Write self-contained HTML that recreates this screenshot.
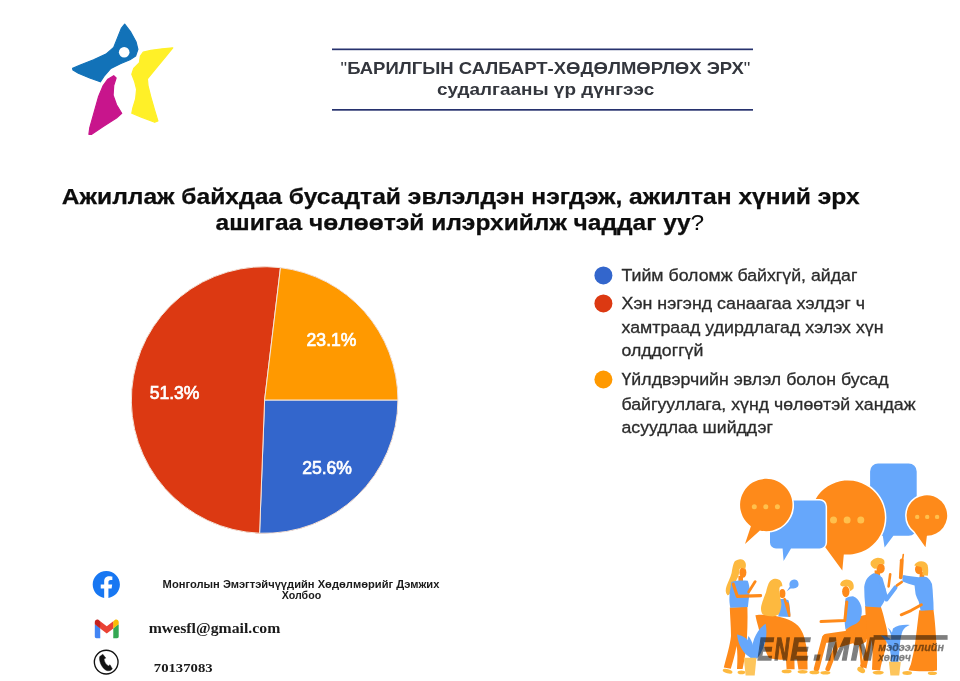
<!DOCTYPE html>
<html lang="mn">
<head>
<meta charset="utf-8">
<title>Барилгын салбарт - хөдөлмөрлөх эрх</title>
<style>
html,body{margin:0;padding:0;background:#fff;}
body{width:960px;height:681px;overflow:hidden;position:relative;font-family:"Liberation Sans",sans-serif;}
svg{position:absolute;left:0;top:0;display:block;}
.sans{font-family:"Liberation Sans","DejaVu Sans",sans-serif;}
.serif{font-family:"Liberation Serif","DejaVu Serif",serif;}
</style>
</head>
<body>
<svg width="960" height="681" viewBox="0 0 960 681">
<rect width="960" height="681" fill="#ffffff"/>

<!-- LOGO -->
<g id="logo" stroke-linejoin="round" stroke-width="1.2">
  <path fill="#1272b8" stroke="#1272b8" d="M124.7,24.2 L130.8,32.2 L136,41.7 L137.9,49.4 L135.6,56 L129.9,59.8 L120.3,63.7 L110.8,68.4 L104.1,76.1 L100.3,81.8 L89.8,78 L78.4,73.2 L73,70 L72.6,68.4 L80.3,65 L93.6,59.8 L106,54.1 L113.7,47.4 L117.5,37.9 L121.3,28.4 Z"/>
  <circle cx="124.2" cy="52.2" r="5.3" fill="#ffffff"/>
  <path fill="#c8158c" stroke="#c8158c" d="M113.7,75.7 L116.1,78 L113.7,85.6 L113.1,95.2 L116.5,104.7 L121.7,113.3 L116.5,118 L103.2,126.6 L91.7,134.3 L88.9,134.3 L89.8,127.6 L93.6,114.2 L98.4,97.1 L103.2,85.6 L107.9,79.2 Z"/>
  <path fill="#fff028" stroke="#fff028" d="M172.8,47.8 L166.1,56 L156.6,67.5 L147.4,78.9 L148,85.6 L150.9,97.1 L154.7,110.4 L157.9,120.9 L154.7,122.3 L141.3,117.1 L131.8,113.3 L132.7,108.5 L135.6,99 L136.6,89.4 L134.7,81.8 L131.8,74.2 L133.7,68.4 L139.4,62.7 L140.4,56 L143.2,52.2 L150.9,50.3 L162.3,48.8 Z"/>
</g>

<!-- HEADER -->
<g id="header">
  <rect x="332" y="48.5" width="421" height="1.7" fill="#27326e"/>
  <rect x="332" y="109" width="421" height="1.7" fill="#27326e"/>
  <text class="sans" x="340.6" y="74.3" font-size="17" font-weight="700" fill="#33363d" textLength="409.8" lengthAdjust="spacingAndGlyphs"><tspan font-weight="400">"</tspan>БАРИЛГЫН САЛБАРТ-ХӨДӨЛМӨРЛӨХ ЭРХ<tspan font-weight="400">"</tspan></text>
  <text class="sans" x="437" y="95" font-size="16.8" font-weight="700" fill="#33363d" textLength="217.2" lengthAdjust="spacingAndGlyphs">судалгааны үр дүнгээс</text>
</g>

<!-- TITLE -->
<g id="title" class="sans" font-size="22.6" font-weight="700" fill="#0d0d0d" stroke="#0d0d0d" stroke-width="0.25">
  <text x="61.8" y="203.9" textLength="797.9" lengthAdjust="spacingAndGlyphs">Ажиллаж байхдаа бусадтай эвлэлдэн нэгдэж, ажилтан хүний эрх</text>
  <text x="215.6" y="229.6" textLength="488.6" lengthAdjust="spacingAndGlyphs">ашигаа чөлөөтэй илэрхийлж чаддаг уу<tspan font-weight="400" stroke="none">?</tspan></text>
</g>

<!-- PIE -->
<g id="pie">
  <circle cx="264.6" cy="400" r="133.3" fill="#dc3912"/>
  <path fill="#3366cc" stroke="#f3e6dc" stroke-width="1" d="M264.6,400 L397.90,400.00 A133.3,133.3 0 0,1 259.58,533.21 Z"/>
  <path fill="#dc3912" stroke="#f3e6dc" stroke-width="1" d="M264.6,400 L259.58,533.21 A133.3,133.3 0 1,1 280.48,267.65 Z"/>
  <path fill="#ff9900" stroke="#f3e6dc" stroke-width="1" d="M264.6,400 L280.48,267.65 A133.3,133.3 0 0,1 397.90,400.00 Z"/>
  <g class="sans" font-size="17.5" font-weight="400" fill="#ffffff" stroke="#ffffff" stroke-width="0.7">
    <text x="306.6" y="345.7" textLength="49.8" lengthAdjust="spacingAndGlyphs">23.1%</text>
    <text x="149.7" y="398.6" textLength="49.8" lengthAdjust="spacingAndGlyphs">51.3%</text>
    <text x="302.2" y="473.7" textLength="49.8" lengthAdjust="spacingAndGlyphs">25.6%</text>
  </g>
</g>

<!-- LEGEND -->
<g id="legend">
  <circle cx="603.4" cy="275.4" r="9" fill="#3366cc"/>
  <circle cx="603.4" cy="303.4" r="9" fill="#dc3912"/>
  <circle cx="603.4" cy="379.5" r="9" fill="#ff9900"/>
  <g class="sans" font-size="17.4" fill="#2b2b2b" stroke="#2b2b2b" stroke-width="0.3" lengthAdjust="spacingAndGlyphs">
    <text x="621.5" y="280.8" textLength="235.9" lengthAdjust="spacingAndGlyphs">Тийм боломж байхгүй, айдаг</text>
    <text x="621.5" y="308.5" textLength="243.6" lengthAdjust="spacingAndGlyphs">Хэн нэгэнд санаагаа хэлдэг ч</text>
    <text x="621.5" y="333.2" textLength="262" lengthAdjust="spacingAndGlyphs">хамтраад удирдлагад хэлэх хүн</text>
    <text x="621.5" y="356.4" textLength="81.8" lengthAdjust="spacingAndGlyphs">олддоггүй</text>
    <text x="621.5" y="384.9" textLength="267" lengthAdjust="spacingAndGlyphs">Үйлдвэрчийн эвлэл болон бусад</text>
    <text x="621.5" y="410" textLength="294" lengthAdjust="spacingAndGlyphs">байгууллага, хүнд чөлөөтэй хандаж</text>
    <text x="621.5" y="433" textLength="151.4" lengthAdjust="spacingAndGlyphs">асуудлаа шийддэг</text>
  </g>
</g>

<!-- ILLUSTRATION -->
<g id="illus">
  <!-- bubbles -->
  <g id="bubbles" stroke="#ffffff" stroke-width="3" paint-order="stroke">
    <path fill="#66a7fb" stroke="none" d="M878.1,463.5 H908.7 a8,8 0 0 1 8,8 V527.8 a8,8 0 0 1 -8,8 H893.4 L884.6,547.4 L882.8,535.8 H878.1 a8,8 0 0 1 -8,-8 V471.5 a8,8 0 0 1 8,-8 Z"/>
    <path fill="#fe8a1a" d="M843.8,554.4 L842.3,570.4 L824.9,546.7 A37.1,37.1 0 1 1 843.8,554.4 Z"/>
    <path fill="#66a7fb" d="M776,500.4 H819.6 a6,6 0 0 1 6,6 V542.4 a6,6 0 0 1 -6,6 H791 L783.6,561 L782.6,548.4 H776 a6,6 0 0 1 -6,-6 V506.4 a6,6 0 0 1 6,-6 Z"/>
    <path fill="#fe8a1a" d="M759.9,530.4 L745,544 L750.9,526.2 A26.2,26.2 0 1 1 759.9,530.4 Z"/>
    <path fill="#fe8a1a" d="M926.9,535.8 L925.5,547.2 L914.4,531.5 A20.3,20.3 0 1 1 926.9,535.8 Z"/>
    <g fill="#ffc04d" stroke="none">
      <circle cx="754.3" cy="506.8" r="2.5"/><circle cx="765.8" cy="506.8" r="2.5"/><circle cx="777.4" cy="506.8" r="2.5"/>
      <circle cx="833.5" cy="519.9" r="3.5"/><circle cx="847.1" cy="519.9" r="3.5"/><circle cx="860.8" cy="519.9" r="3.5"/>
      <circle cx="917.2" cy="516.9" r="2.2"/><circle cx="927.2" cy="516.9" r="2.2"/><circle cx="937.1" cy="516.9" r="2.2"/>
    </g>
  </g>

  <!-- person 1 : standing woman -->
  <g id="p1">
    <path fill="#fe8a1a" d="M729.8,607.6 L747.4,606.8 C747.8,620 747.4,635 746.2,648 C745.2,656 743.8,663 742.6,669 L737,669 C737.6,660 737.6,652 736.6,646 C735,655 732.6,663 730.8,668.8 L723.8,667.6 C727,655 730,645 731,636 C731,626 730,616 729.8,607.6 Z"/>
    <ellipse cx="727.6" cy="671.2" rx="5" ry="2.1" fill="#fdb93f" transform="rotate(14 727.6 671.2)"/>
    <ellipse cx="741.4" cy="672.4" rx="3.8" ry="1.8" fill="#fdb93f"/>
    <rect x="738.4" y="576" width="4.6" height="7" fill="#fe8a1a"/>
    <ellipse cx="742.9" cy="572.4" rx="3.5" ry="5.3" fill="#fe8a1a"/>
    <path fill="#fdb93f" d="M739,559.4 C742,558.6 744.6,560 745.6,563 C746.4,566 745.6,568 744.8,569.4 C743,567.6 741,567.4 739.6,569 C739.2,573 738.6,577 736.4,580 C734.4,584 733.4,588.5 731.3,591.8 C730,594 728.6,595.4 727.5,595.2 C725.2,592.8 725.4,589.6 726.6,586 C728,582 730.4,577.6 731.6,573 C732.4,568.4 733,564 734.6,561.6 C735.8,560.2 737.4,559.6 739,559.4 Z"/>
    <path fill="#66a7fb" d="M731.3,581.9 C736,580.4 743,580.2 747.7,580.8 C749,584 749.8,588 749.6,591.3 C749.2,597 748.4,602 747.9,606.9 L730.3,607.8 C729.6,604 729.3,601 729.4,598 C729.5,594 729.8,591 730.4,588.5 Z"/>
    <path fill="none" stroke="#fe8a1a" stroke-width="3.1" stroke-linecap="round" stroke-linejoin="round" d="M733.2,584 L737.4,596.4 L760.6,595.6"/>
    <path fill="none" stroke="#fe8a1a" stroke-width="2.8" stroke-linecap="round" d="M748.6,592 L755.2,581.6"/>
  </g>

  <!-- chair + person 2 : sitting woman -->
  <g id="p2">
    <path fill="#fe8a1a" d="M755.4,615.2 C768,613.6 782,616.6 791.9,621.2 C797,624 800,627.4 801.5,630.8 C803.6,634.6 804.8,638.4 805.4,642.3 C806.8,647.4 807.4,652.4 807.3,657.7 L807.6,669.6 L798.4,669.6 L797,659.4 L794.4,659.6 L794.6,669.2 L786.6,669.2 L786,659.8 C780,660 774,659.2 768.8,657.7 C766,653 764.4,647.6 763,642.3 C761,637.4 759.6,632.2 758.3,627 C757,623 756.2,619 755.4,615.2 Z"/>
    <ellipse cx="786.6" cy="671.4" rx="5" ry="1.8" fill="#fdb93f"/>
    <ellipse cx="802.6" cy="671.8" rx="5" ry="1.8" fill="#fdb93f"/>
    <ellipse cx="782.4" cy="593.6" rx="3" ry="4.6" fill="#fe8a1a"/>
    <path fill="#66a7fb" d="M778.6,599.4 C782,598.6 786,599 788.6,600.4 C789.8,605 790.4,611 790.2,617 L778.4,616.4 Z"/>
    <path fill="none" stroke="#fe8a1a" stroke-width="2.5" stroke-linecap="round" stroke-linejoin="round" d="M787.6,603.6 L789.4,615.6 L784.6,599"/>
    <path fill="#fdb93f" d="M774.6,578.8 C777,578.4 779.4,579.4 780.6,581 C782,582.8 782.6,585 782.2,586.6 C780.8,585.6 779.6,586.6 779.4,588.6 C779.4,592 780,595 780.4,598 C781,601 781.6,603.4 781.3,605.8 C780.8,609.6 780,612.6 778.5,614.6 C776,616.2 773,616.6 770.6,616.3 C767,616 763.4,615.4 762,613.5 C760.8,611 760.8,608.4 761.3,605.8 C762.4,601 764.4,596.6 766,592.3 C767,588 768,584 769.8,581.6 C771,580 772.8,579 774.6,578.8 Z"/>
    <path fill="#66a7fb" d="M794.2,579.6 a4.3,4.3 0 0 1 2.4,7.9 C795,588.6 792.4,588.6 790.6,588.4 L786.8,591.2 L789.8,586.4 C788.6,583 790.6,579.8 794.2,579.6 Z"/>
  </g>

  <!-- plant 1 -->
  <g id="plant1">
    <path fill="#66a7fb" d="M752.6,658.4 C744,655 738.4,646 737,634.4 C743,635.4 748.6,639.4 751.4,645 C753.6,649 754.4,654 754.4,658.4 Z"/>
    <path fill="#66a7fb" d="M751.4,658.4 C750.6,646 754.6,631 765.6,623.8 C767.6,633 766,643 762,650.4 C760.4,654 758.6,656.8 757,658.4 Z"/>
    <path fill="#66a7fb" d="M750.8,658.4 C747,651 746.4,643 748.4,636 C752.6,641 755,650 754.4,658.4 Z"/>
    <path fill="#fdc55c" d="M743.8,657.7 H756.4 L754.7,675.4 H745.6 Z"/>
  </g>

  <!-- person 3 : sitting man -->
  <g id="p3">
    <path fill="#fe8a1a" d="M858,617.7 C861,615.4 864.4,614.6 866.8,615 C868.8,619 869.2,623.4 868.6,627.5 C868.4,633 867.4,638 866,641.7 C862.6,644.4 858.4,645.4 854.4,645.2 L845.5,630 Z"/>
    <path fill="none" stroke="#fe8a1a" stroke-width="2.4" stroke-linecap="round" d="M860,644 L862.4,670.6"/>
    <path fill="none" stroke="#fe8a1a" stroke-width="9" stroke-linecap="round" stroke-linejoin="round" d="M851,634.6 L826.6,638.2"/>
    <path fill="none" stroke="#fe8a1a" stroke-width="5.6" stroke-linecap="round" stroke-linejoin="round" d="M824.6,638.4 L816.6,668.6"/>
    <path fill="none" stroke="#fe8a1a" stroke-width="7" stroke-linecap="round" stroke-linejoin="round" d="M852,640 L838.6,644"/>
    <path fill="none" stroke="#fe8a1a" stroke-width="4.8" stroke-linecap="round" stroke-linejoin="round" d="M837.4,644 L827.8,668.8"/>
    <ellipse cx="814.4" cy="672.4" rx="5" ry="1.8" fill="#fdb93f"/>
    <ellipse cx="825.4" cy="672.8" rx="5" ry="1.8" fill="#fdb93f"/>
    <ellipse cx="845.8" cy="591.6" rx="3.7" ry="5.6" fill="#fe8a1a"/>
    <path fill="#fdb93f" d="M841,582.2 C842.6,580.4 844.6,579.6 846.4,579.5 C849,579.6 851.4,580.6 852.6,582.2 C853.8,584 854,586.4 853.5,588.4 C852.6,589.6 851.2,590.6 850,591 C849.8,589.4 849.2,587.8 848.2,586.6 C846.4,586 844.4,586.2 842.8,586.6 C841.8,586.2 840.8,585.6 840.2,584.9 C840.2,584 840.4,583 841,582.2 Z"/>
    <path fill="#66a7fb" d="M845.5,598.6 C848,597 851,596.2 853.5,596.4 C856.4,597.6 858.6,600 859.7,602.6 C861.2,605.4 861.9,608.4 861.8,611.5 C861.8,614.6 861,617.8 859.7,620.4 C857.6,623 854.8,624.6 851.7,625.7 L845.5,629.4 C844.6,624 844.4,618.6 844.6,613.3 C844.6,608 844.9,603 845.5,598.6 Z"/>
    <path fill="none" stroke="#fe8a1a" stroke-width="3" stroke-linecap="round" stroke-linejoin="round" d="M846.8,602 L844.8,620.6 L821,621.6"/>
  </g>

  <!-- person 4 : standing man -->
  <g id="p4">
    <path fill="#fe8a1a" d="M865.1,606 L880.8,606.6 C882.6,612 884,617 884.8,621 C886.4,627 887.8,632 887.6,636.4 C886.6,645 884.4,653 882.4,660 C881.4,664 880.6,667.4 880.2,670.4 L872,669.8 C872.6,658 873,648 871.6,640 C870.4,648 868.4,660 866.4,668.4 L859.8,666.2 C862,662 863.6,658 864.5,653.5 C866,647 867,641 866.9,635.7 C866.8,630 866.6,627 866.3,623.8 C865.8,618 865.4,612 865.1,606 Z"/>
    <ellipse cx="861.2" cy="670" rx="4.2" ry="2.6" fill="#fdb93f" transform="rotate(28 861.2 670)"/>
    <ellipse cx="878.2" cy="672.6" rx="5.6" ry="1.9" fill="#fdb93f"/>
    <rect x="874.6" y="570.4" width="5.4" height="5" fill="#fe8a1a"/>
    <ellipse cx="880.6" cy="568.4" rx="4.1" ry="5" fill="#fe8a1a"/>
    <path fill="#fdb93f" d="M871,561.6 C872.4,559.4 875,558 877.6,557.7 C880,557.6 882.6,558.4 884,560 C884.6,561.4 884.6,563 884.2,564.4 C882.6,563.6 880.6,563.4 879,564 C877.8,565 877.4,566.6 877.2,568 C876.4,568.8 875.2,569 874,568.6 C872.4,567.6 871.2,566 870.6,564.4 C870.4,563.4 870.6,562.4 871,561.6 Z"/>
    <path fill="none" stroke="#fe8a1a" stroke-width="2.6" stroke-linecap="round" d="M888.6,586.4 L890.2,574.2"/>
    <path fill="#66a7fb" d="M873.5,573.2 C876,573.4 878.6,574.2 880.4,575.6 C882,580 883.6,585 885.6,589 L884.8,600 C883.6,603 881.6,605.6 880.4,607.6 L865.3,606.4 C864.6,600 864.2,593.6 864.2,587 C864.6,584 865.4,581.8 866.3,579.8 C868,577 870.6,574.6 873.5,573.2 Z"/>
    <path fill="none" stroke="#66a7fb" stroke-width="4.2" stroke-linecap="round" stroke-linejoin="round" d="M880.6,579 L886.4,599.4 L895.4,587.4"/>
    <path fill="none" stroke="#fe8a1a" stroke-width="2.7" stroke-linecap="round" d="M897,585.4 L901.8,582"/>
  </g>

  <!-- plant 2 -->
  <g id="plant2">
    <path fill="#66a7fb" d="M892.6,663 C890.6,650 890,638 893,628.4 C897,625.4 904,624.4 909.7,625 C906,626.6 904,628.4 902.6,631 C901.4,634 900.6,638 900.2,642 C899.6,649 898.8,656 898.4,663 Z"/>
    <path fill="#66a7fb" d="M880.8,635.6 C885,635.4 889.6,637.4 892.4,641.4 L893.6,663 L891,663 C891.6,653 889,642 880.8,635.6 Z"/>
    <path fill="#66a7fb" d="M887.6,627.4 C890.6,629.6 893.6,634 894.6,640 L892,641 C891.6,636 890,631 887.6,627.4 Z"/>
    <path fill="#fdc55c" d="M888.9,661.8 H900.8 L899.2,675.6 H890.4 Z"/>
  </g>

  <!-- person 5 : standing woman right -->
  <g id="p5">
    <path fill="#fe8a1a" d="M919.2,610.2 L933.5,609.8 C934.6,618 935.4,627 935.9,635.7 C936.6,644 937,652 937,659.5 L937,670.4 C928,671.6 917,671.6 908.5,670.2 C909.4,668 910.2,666 910.9,664.2 C912.4,658 913.6,653 914.5,647.6 C915.4,641 916.2,635 916.8,629.7 C917.6,623 918.4,616 919.2,610.2 Z"/>
    <ellipse cx="907.2" cy="673" rx="4.8" ry="1.9" fill="#fdb93f"/>
    <ellipse cx="932.4" cy="673.2" rx="4.6" ry="1.8" fill="#fdb93f"/>
    <rect x="919.6" y="572" width="4.6" height="6" fill="#fe8a1a"/>
    <ellipse cx="918.9" cy="569.2" rx="3.9" ry="5" fill="#fe8a1a"/>
    <path fill="#fdb93f" d="M914.2,565.6 C915.2,563 918,561.4 921,561.3 C924,561.2 926.6,562.6 927.6,565 C928.4,568.4 928.4,572.4 927.8,575.8 L922.4,575.2 C922.8,572 922.4,569 921.2,567 C919,566.6 916.4,566.2 914.2,565.6 Z"/>
    <path fill="none" stroke="#fe8a1a" stroke-width="3.8" stroke-linecap="round" d="M900.8,577.4 L901.8,560.4"/>
    <path fill="none" stroke="#fe8a1a" stroke-width="1.6" stroke-linecap="round" d="M902.6,559.6 L903.3,554.6"/>
    <path fill="#66a7fb" d="M903.3,575 C908,576 913.6,576.8 918.7,577.2 C921.4,576.6 924.4,576.6 927,577.2 C929.4,579 931,581.4 932,584 C932.6,588 932.8,592 933,596.2 C933.4,600.4 933.6,605 933.6,610 L920.6,610.8 C920,607.6 919.4,604.4 918.7,601.4 C917.4,599 916.2,596.6 915.6,594.2 C915.2,591 914.8,588 914.6,585.6 C910.6,584.6 906.4,583.2 902.6,581.6 C902.2,579.4 902.6,577 903.3,575 Z"/>
    <path fill="none" stroke="#fe8a1a" stroke-width="2.9" stroke-linecap="round" stroke-linejoin="round" d="M921.4,604.8 L911,610.6 L901.2,614.8"/>
  </g>

  <!-- watermark -->
  <g id="wm" opacity="0.5" fill="#000000" stroke="#000000" stroke-linejoin="miter" class="sans" font-weight="700" font-style="italic" lengthAdjust="spacingAndGlyphs">
    <text y="659.8" font-size="32" stroke-width="1.4"><tspan x="757.6" textLength="15.6" lengthAdjust="spacingAndGlyphs">E</tspan><tspan x="774.6" textLength="14.6" lengthAdjust="spacingAndGlyphs">N</tspan><tspan x="790.6" textLength="19" lengthAdjust="spacingAndGlyphs">E</tspan><tspan x="813.6" textLength="9" lengthAdjust="spacingAndGlyphs">.</tspan><tspan x="825.6" textLength="24" lengthAdjust="spacingAndGlyphs">M</tspan><tspan x="851" textLength="23" lengthAdjust="spacingAndGlyphs">N</tspan></text>
    <rect x="873.6" y="635.1" width="74" height="4.7" stroke="none"/>
    <text x="878.2" y="650.5" font-size="11.3" stroke-width="0.3" textLength="65.8" lengthAdjust="spacingAndGlyphs">мэдээллийн</text>
    <text x="878.2" y="661.2" font-size="11.3" stroke-width="0.3" textLength="32.7" lengthAdjust="spacingAndGlyphs">хөтөч</text>
  </g>
</g>

<!-- CONTACTS -->
<g id="contacts">
  <!-- facebook -->
  <g transform="translate(92.7,570.9) scale(1.1333)">
    <circle cx="12" cy="12" r="11.5" fill="#ffffff"/>
    <path fill="#1877f2" d="M24 12.073c0-6.627-5.373-12-12-12s-12 5.373-12 12c0 5.99 4.388 10.954 10.125 11.854v-8.385H7.078v-3.47h3.047V9.43c0-3.007 1.792-4.669 4.533-4.669 1.312 0 2.686.235 2.686.235v2.953H15.83c-1.491 0-1.956.925-1.956 1.874v2.25h3.328l-.532 3.47h-2.796v8.385C19.612 23.027 24 18.062 24 12.073z"/>
  </g>
  <!-- gmail -->
  <g transform="translate(94.8,619.5) scale(0.0934,0.097)">
    <path fill="#4285f4" d="M58.182 192.05V93.14L27.507 65.077 0 49.504v125.091c0 9.658 7.825 17.455 17.455 17.455h40.727Z"/>
    <path fill="#34a853" d="M197.818 192.05h40.727c9.659 0 17.455-7.826 17.455-17.455V49.505l-31.156 17.837-27.026 25.798v98.91Z"/>
    <path fill="#ea4335" d="M58.182 93.14l-4.174-38.647 4.174-36.989L128 69.868l69.818-52.364 4.669 34.992-4.669 40.644L128 145.504z"/>
    <path fill="#fbbc04" d="M197.818 17.504V93.14L256 49.504V26.231c0-21.585-24.64-33.89-41.89-20.945l-16.292 12.218Z"/>
    <path fill="#c5221f" d="M0 49.504l26.759 20.07L58.182 93.14V17.504L41.89 5.286C24.61-7.66 0 4.646 0 26.23v23.273Z"/>
  </g>
  <!-- phone -->
  <circle cx="106.2" cy="662.1" r="11.85" fill="#ffffff" stroke="#111111" stroke-width="1.35"/>
  <path fill="#111111" stroke="#111111" stroke-width="0.4" stroke-linejoin="round" d="M99.7,656.6 L102.8,654.2 L105.8,658.1 L104,658.9 C104.4,662 106,664.6 108.5,665.9 L110,664.7 L112.4,668.9 C111,670.4 109,671 107.3,670.7 C103.6,669.6 100.4,665 99.6,660 C99.4,658.8 99.4,657.6 99.7,656.6 Z"/>
  <g class="sans" font-size="10" font-weight="700" fill="#1a1a1a">
    <text x="162.6" y="588.3" textLength="276.8" lengthAdjust="spacingAndGlyphs">Монголын Эмэгтэйчүүдийн Хөдөлмөрийг Дэмжих</text>
    <text x="281.8" y="599.2" textLength="39.4" lengthAdjust="spacingAndGlyphs">Холбоо</text>
  </g>
  <text class="serif" x="148.7" y="632.9" font-size="14.8" font-weight="700" fill="#1a1a1a" textLength="131.6" lengthAdjust="spacingAndGlyphs">mwesfl@gmail.com</text>
  <text class="serif" x="153.8" y="671.9" font-size="12.5" font-weight="700" fill="#1a1a1a" textLength="58.8" lengthAdjust="spacingAndGlyphs">70137083</text>
</g>
</svg>
</body>
</html>
